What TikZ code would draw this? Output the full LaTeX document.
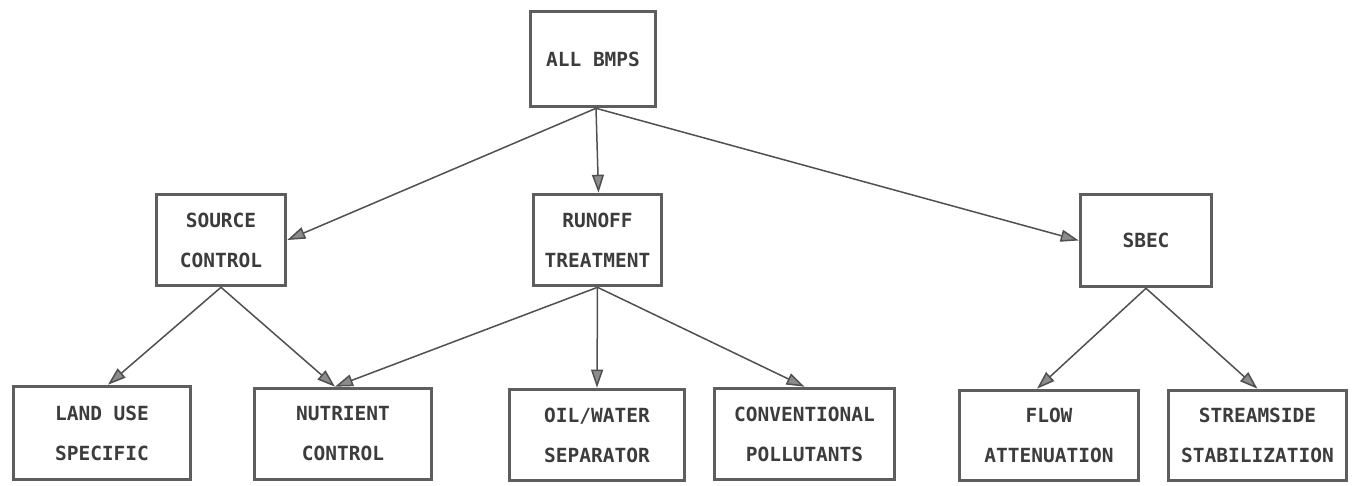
\documentclass[tikz,border=0pt]{standalone}
\usepackage{fontspec}
\newfontfamily\boxfont{DejaVu Sans Mono}
\usetikzlibrary{arrows.meta}
\definecolor{boxline}{HTML}{5E5E5E}
\definecolor{txt}{HTML}{3C3C3C}
\definecolor{arr}{HTML}{505050}
\tikzset{
  bmpbox/.style={draw=boxline, line width=3.6pt, fill=white, align=center,
    text=txt, font=\boxfont\bfseries\fontsize{19.5}{40}\selectfont, inner sep=0pt},
  conn/.style={draw=arr, line width=1.5pt,
    -{Triangle[length=18pt,width=12pt,fill=black!45]}}
}
\begin{document}
\begin{tikzpicture}[x=1pt,y=-1pt]
\useasboundingbox[fill=white] (0,0) rectangle (1355,485);
\node[bmpbox, minimum width=125pt, minimum height=95pt] (all) at (593,59) {ALL BMPS};
\node[bmpbox, minimum width=129pt, minimum height=91pt] (src) at (221,240) {SOURCE\\CONTROL};
\node[bmpbox, minimum width=128pt, minimum height=91pt] (run) at (597.5,240) {RUNOFF\\TREATMENT};
\node[bmpbox, minimum width=131pt, minimum height=92pt] (sbec) at (1146,240.5) {SBEC};
\node[bmpbox, minimum width=177pt, minimum height=93pt] (land) at (102,433) {LAND USE\\SPECIFIC};
\node[bmpbox, minimum width=177pt, minimum height=91pt] (nut) at (343,434) {NUTRIENT\\CONTROL};
\node[bmpbox, minimum width=175pt, minimum height=91pt] (oil) at (597,435) {OIL/WATER\\SEPARATOR};
\node[bmpbox, minimum width=180pt, minimum height=91pt] (conv) at (804.5,434) {CONVENTIONAL\\POLLUTANTS};
\node[bmpbox, minimum width=179pt, minimum height=90pt] (flow) at (1049,435.5) {FLOW\\ATTENUATION};
\node[bmpbox, minimum width=178pt, minimum height=90pt] (strm) at (1257.5,435.5) {STREAMSIDE\\STABILIZATION};

\draw[conn] ([xshift=3pt]all.south) -- (src.east);
\draw[conn] ([xshift=3pt]all.south) -- ([xshift=1pt]run.north);
\draw[conn] ([xshift=3pt]all.south) -- (sbec.west);
\draw[conn] (src.south) -- ([xshift=6pt]land.north);
\draw[conn] (src.south) -- ([xshift=-8pt]nut.north);
\draw[conn] (run.south) -- ([xshift=-8pt]nut.north);
\draw[conn] (run.south) -- (oil.north);
\draw[conn] (run.south) -- (conv.north);
\draw[conn] (sbec.south) -- ([xshift=-12pt]flow.north);
\draw[conn] (sbec.south) -- (strm.north);
\end{tikzpicture}
\end{document}
